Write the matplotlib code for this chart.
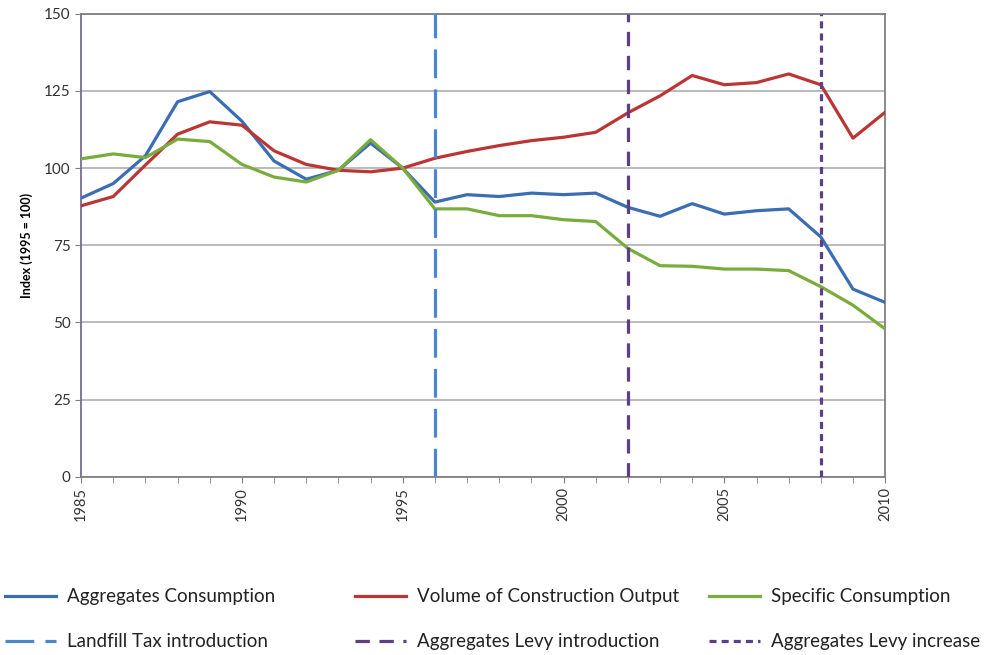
import matplotlib.pyplot as plt
from matplotlib.lines import Line2D
from matplotlib.ticker import MultipleLocator

plt.rcParams["font.family"] = ["Lato", "DejaVu Sans"]

years = list(range(1985, 2011))

aggregates = [90.3, 95.0, 104.0, 121.5, 124.8, 115.2, 102.3, 96.4, 99.3, 108.1,
              100.0, 89.0, 91.4, 90.8, 91.9, 91.4, 91.9, 87.3, 84.4, 88.5,
              85.1, 86.2, 86.8, 77.7, 60.8, 56.5]
construction = [87.8, 90.8, 101.0, 111.0, 115.0, 113.9, 105.6, 101.2, 99.3, 98.8,
                100.0, 103.2, 105.4, 107.3, 108.9, 110.0, 111.6, 117.9, 123.4, 130.0,
                127.0, 127.7, 130.5, 127.0, 109.7, 118.1]
specific = [103.0, 104.6, 103.4, 109.4, 108.6, 101.2, 97.1, 95.5, 99.3, 109.2,
            100.0, 86.8, 86.8, 84.6, 84.6, 83.3, 82.7, 74.0, 68.4, 68.2,
            67.3, 67.3, 66.8, 61.6, 55.6, 47.9]

landfill_year = 1996
levy_intro_year = 2002
levy_increase_year = 2008

c_agg = "#3b6db3"
c_con = "#bb3535"
c_spec = "#79ac3c"
c_landfill = "#4a87cc"
c_levy = "#5b3f88"

fig = plt.figure(figsize=(9.89, 6.55), dpi=100)
ax = fig.add_axes([0.082, 0.272, 0.813, 0.707])

ax.plot(years, aggregates, color=c_agg, lw=2.3, zorder=3)
ax.plot(years, construction, color=c_con, lw=2.3, zorder=3)
ax.plot(years, specific, color=c_spec, lw=2.3, zorder=3)

ax.axvline(landfill_year, color=c_landfill, lw=2.3, dashes=(9, 3.5), zorder=4)
ax.axvline(levy_intro_year, color=c_levy, lw=2.3, dashes=(4.5, 3), zorder=4)
ax.axvline(levy_increase_year, color=c_levy, lw=2.3, dashes=(2.2, 1.6), zorder=4)

ax.set_xlim(1985, 2010)
ax.set_ylim(0, 150)
ax.xaxis.set_major_locator(MultipleLocator(5))
ax.xaxis.set_minor_locator(MultipleLocator(1))
ax.yaxis.set_major_locator(MultipleLocator(25))
ax.grid(axis="y", color="#b5b5b5", lw=1.3, zorder=1)

for lbl in ax.get_xticklabels():
    lbl.set_rotation(90)
ax.tick_params(axis="x", which="both", length=4, color="#808080", labelsize=10.5, labelcolor="#333333")
ax.tick_params(axis="y", length=4, color="#808080", labelsize=11, labelcolor="#333333")

for side in ["top", "right", "bottom"]:
    ax.spines[side].set_color("#808080")
    ax.spines[side].set_linewidth(1.3)
ax.spines["left"].set_color("#7a6a9c")
ax.spines["left"].set_linewidth(1.3)

ax.set_ylabel("Index (1995 = 100)", fontsize=9, fontweight="bold", labelpad=8)

groups = [
    [("Aggregates Consumption", dict(color=c_agg)),
     ("Landfill Tax introduction", dict(color=c_landfill, dashes=(9, 3.5)))],
    [("Volume of Construction Output", dict(color=c_con)),
     ("Aggregates Levy introduction", dict(color=c_levy, dashes=(4.5, 3)))],
    [("Specific Consumption", dict(color=c_spec)),
     ("Aggregates Levy increase", dict(color=c_levy, dashes=(2.2, 1.6)))],
]
xpos = [0.005, 0.359, 0.717]

for x0, grp in zip(xpos, groups):
    handles = [Line2D([], [], lw=2.3, **kw) for _, kw in grp]
    labels = [t for t, _ in grp]
    leg = fig.legend(handles, labels, loc="upper left", bbox_to_anchor=(x0, 0.102),
                     frameon=False, fontsize=13.5, handlelength=2.7,
                     handletextpad=0.62, labelspacing=1.5, borderaxespad=0,
                     borderpad=0)
    for t in leg.get_texts():
        t.set_color("#222222")

fig.savefig("out.png", dpi=100)
